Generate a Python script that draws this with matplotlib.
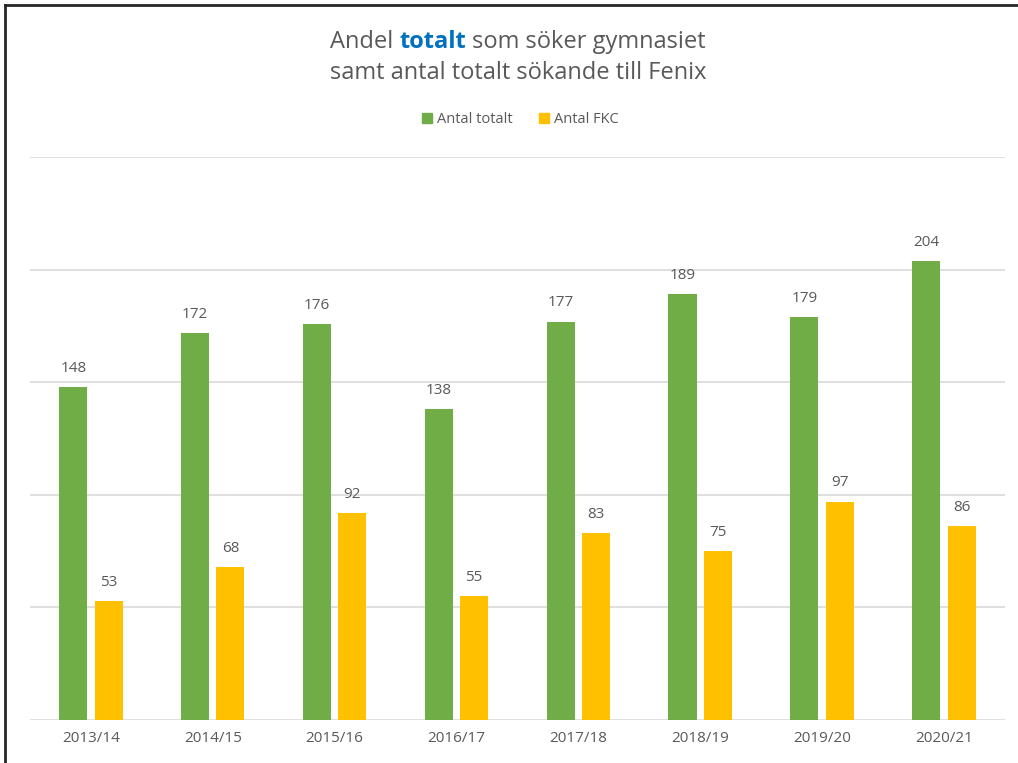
import matplotlib
matplotlib.use("Agg")
import matplotlib.pyplot as plt
from matplotlib.lines import Line2D
import numpy as np

years = ["2013/14", "2014/15", "2015/16", "2016/17", "2017/18", "2018/19", "2019/20", "2020/21"]
antal_totalt = [148, 172, 176, 138, 177, 189, 179, 204]
antal_fkc = [53, 68, 92, 55, 83, 75, 97, 86]

green = "#70AD47"
yellow = "#FFC000"
grey_txt = "#595959"
grid_col = "#D9D9D9"

plt.rcParams['font.family'] = ['Open Sans', 'DejaVu Sans']

fig = plt.figure(figsize=(10.18, 7.63), dpi=100)
ax = fig.add_axes([0.0295, 0.0564, 0.9575, 0.7376])

x = np.arange(len(years))
w = 0.23
b1 = ax.bar(x - 0.145, antal_totalt, w, color=green, zorder=3)
b2 = ax.bar(x + 0.145, antal_fkc, w, color=yellow, zorder=3)

for bars, vals in ((b1, antal_totalt), (b2, antal_fkc)):
    for r, v in zip(bars, vals):
        ax.annotate(str(v), (r.get_x() + r.get_width() / 2, v), xytext=(0, 8),
                    textcoords="offset points", ha="center", va="bottom",
                    fontsize=11, color=grey_txt)

ax.set_xlim(-0.5, 7.5)
ax.set_ylim(0, 250)
ax.set_yticks([0, 50, 100, 150, 200, 250])
ax.yaxis.grid(True, color=grid_col, linewidth=1.2, zorder=0)
ax.tick_params(axis="y", left=False, labelleft=False)
ax.set_xticks(x)
ax.set_xticklabels(years, fontsize=11, color=grey_txt)
ax.tick_params(axis="x", length=0, pad=8)
for s in ax.spines.values():
    s.set_visible(False)

# legend
handles = [Line2D([], [], marker="s", linestyle="none", color=green, markersize=7),
           Line2D([], [], marker="s", linestyle="none", color=yellow, markersize=7)]
fig.legend(handles, ["Antal totalt", "Antal FKC"], loc="center", bbox_to_anchor=(0.51, 0.843),
           ncol=2, frameon=False, fontsize=10.5, labelcolor=grey_txt,
           handletextpad=0.2, columnspacing=1.6, handlelength=1.0)

# title, first line with a bold blue word
fs = 17
parts = [("Andel ", grey_txt, "normal"), ("totalt", "#0070C0", "bold"), (" som söker gymnasiet", grey_txt, "normal")]
texts = []
for s, c, wt in parts:
    texts.append(fig.text(0, 1 - 42 / 763, s, color=c, fontweight=wt, fontsize=fs, va="center", ha="left"))
fig.canvas.draw()
r = fig.canvas.get_renderer()
widths = [t.get_window_extent(r).width for t in texts]
xpos = 518 - sum(widths) / 2
for t, wd in zip(texts, widths):
    t.set_x(xpos / 1018)
    xpos += wd
fig.text(518 / 1018, 1 - 73 / 763, "samt antal totalt sökande till Fenix", color=grey_txt,
         fontsize=fs, ha="center", va="center")

# frame of the screenshot
fig.add_artist(Line2D([5 / 1018, 5 / 1018], [0, 1 - 5 / 763], color="#262626", linewidth=2, transform=fig.transFigure))
fig.add_artist(Line2D([5 / 1018, 1], [1 - 5 / 763, 1 - 5 / 763], color="#262626", linewidth=2, transform=fig.transFigure))

fig.savefig("out.png", dpi=100)
